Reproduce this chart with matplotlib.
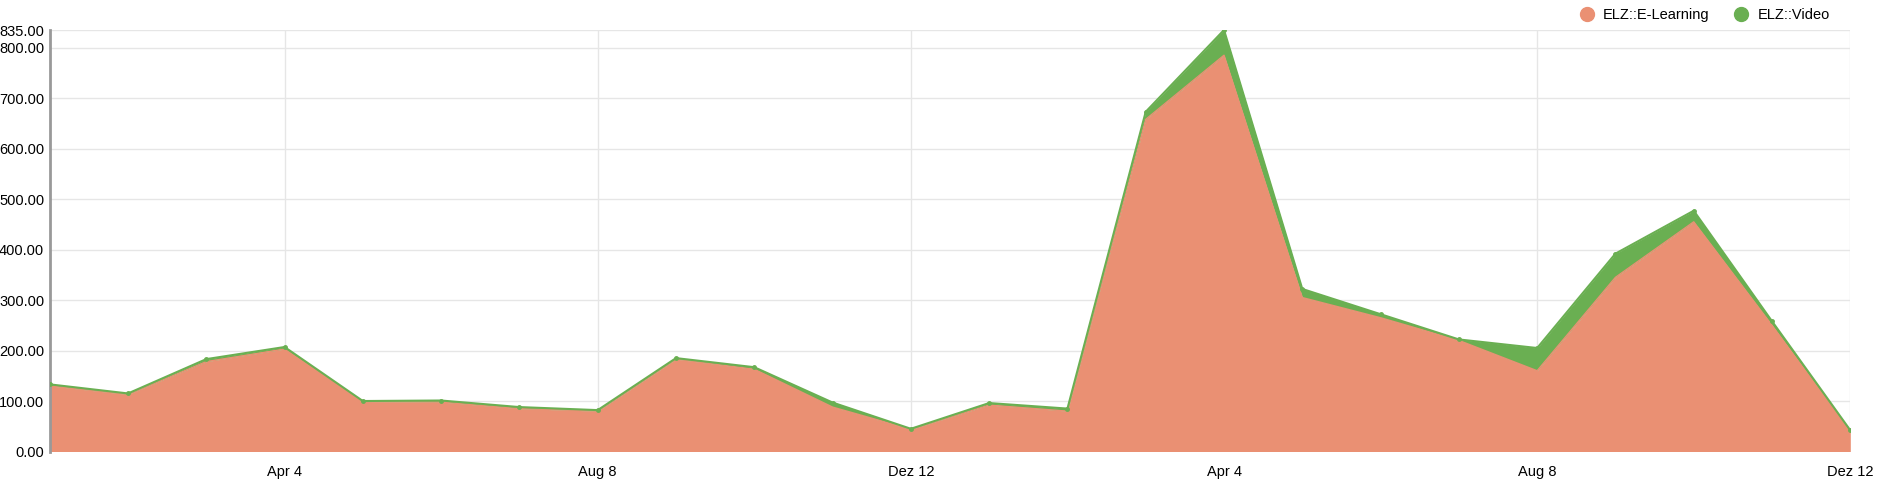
import numpy as np
import matplotlib
matplotlib.use("Agg")
import matplotlib.pyplot as plt

# Werte je Periode (24 Punkte)
elearning = [130, 113, 178, 203, 99, 98, 85, 80, 183, 163, 88, 44,
             92, 80, 658, 785, 305, 265, 220, 160, 345, 455, 250, 40]
video = [3, 2, 5, 4, 1, 3, 3, 2, 2, 4, 9, 1,
         4, 5, 15, 50, 17, 7, 2, 45, 47, 22, 8, 2]
tick_pos = [3, 7, 11, 15, 19, 23]
tick_labels = ["Apr 4", "Aug 8", "Dez 12", "Apr 4", "Aug 8", "Dez 12"]

C_EL = "#EA9073"
C_VID = "#6AAF52"

x = np.arange(len(elearning))
el = np.array(elearning)
total = el + np.array(video)

fig = plt.figure(figsize=(18.9, 5), dpi=100)
ax = fig.add_axes([0.0263, 0.097, 0.9527, 0.843])

ax.fill_between(x, 0, el, color=C_EL, linewidth=0, zorder=2)
ax.fill_between(x, el, total, color=C_VID, linewidth=0, zorder=2)
ax.plot(x, el, color=C_EL, linewidth=1, zorder=3)
ax.plot(x, total, color=C_VID, linewidth=1.5, marker="o", markersize=2.5, zorder=4)

ax.set_xlim(0, len(x) - 1)
ax.set_ylim(0, 835)
yt = [0, 100, 200, 300, 400, 500, 600, 700, 800, 835]
ax.set_yticks(yt)
ax.set_yticklabels([f"{v:.2f}" for v in yt], fontsize=10.5, family="Liberation Sans")
ax.set_xticks(tick_pos)
ax.set_xticklabels(tick_labels, fontsize=10.5, family="Liberation Sans")
ax.tick_params(length=0, pad=4)
ax.tick_params(axis="x", pad=10)
ax.grid(True, color="#e6e6e6", linewidth=1, zorder=0)
for s in ["top", "right", "bottom"]:
    ax.spines[s].set_visible(False)
ax.spines["left"].set_color("#999999")
ax.spines["left"].set_linewidth(2)

h1 = plt.Line2D([], [], marker="o", color="none", markerfacecolor=C_EL, markeredgecolor=C_EL, markersize=10)
h2 = plt.Line2D([], [], marker="o", color="none", markerfacecolor=C_VID, markeredgecolor=C_VID, markersize=10)
fig.legend([h1, h2], ["ELZ::E-Learning", "ELZ::Video"], loc="upper right",
           bbox_to_anchor=(0.975, 1.01), ncol=2, frameon=False, handletextpad=0.1,
           columnspacing=1.2, prop={"family": "Liberation Sans", "size": 10.5})

fig.savefig("out.png", dpi=100)
